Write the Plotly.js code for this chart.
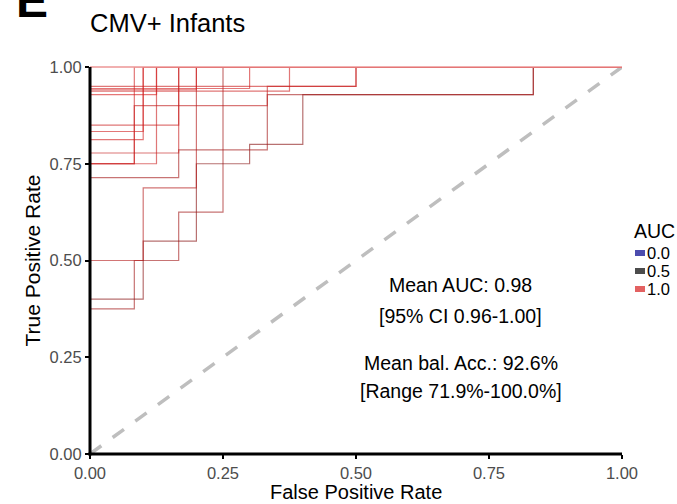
<!DOCTYPE html>
<html>
<head>
<meta charset="utf-8">
<script src="https://cdn.plot.ly/plotly-3.0.1.min.js"></script>
<style>html,body{margin:0;padding:0;background:#fff;}</style>
</head>
<body>
<div id="chart" style="width:677px;height:504px;"></div>
<script>
// ROC curves (false positive rate / true positive rate corner points), one per repeat
const rocFpr = [
  [0, 0, 0.0833, 0.0833, 0.1667, 0.1667, 0.25, 0.25, 1],
  [0, 0, 0.1, 0.1, 0.2, 0.2, 0.3, 0.3, 0.4, 0.4, 0.8333, 0.8333, 1],
  [0, 0, 0.1, 0.1, 0.2, 0.2, 1],
  [0, 0, 0.1667, 0.1667, 0.3333, 0.3333, 0.8333, 0.8333, 1],
  [0, 0, 0.0833, 0.0833, 0.3333, 0.3333, 0.5, 0.5, 1],
  [0, 0, 0.5, 0.5, 1],
  [0, 0, 0.0833, 0.0833, 1],
  [0, 0, 0.1, 0.1, 1],
  [0, 0, 0.1, 0.1, 1],
  [0, 0, 0.125, 0.125, 1],
  [0, 0, 0.125, 0.125, 1],
  [0, 0, 0.1667, 0.1667, 1],
  [0, 0, 0.1667, 0.1667, 1],
  [0, 0, 0.375, 0.375, 1],
  [0, 0, 0.3, 0.3, 1],
  [0, 0, 0.2, 0.2, 1]
];
const rocTpr = [
  [0, 0.375, 0.375, 0.5, 0.5, 0.625, 0.625, 1, 1],
  [0, 0.4, 0.4, 0.55, 0.55, 0.75, 0.75, 0.8, 0.8, 0.9286, 0.9286, 1, 1],
  [0, 0.5, 0.5, 0.6875, 0.6875, 1, 1],
  [0, 0.7143, 0.7143, 0.7857, 0.7857, 0.9286, 0.9286, 1, 1],
  [0, 0.75, 0.75, 0.9, 0.9, 0.95, 0.95, 1, 1],
  [0, 0.95, 0.95, 1, 1],
  [0, 0.75, 0.75, 1, 1],
  [0, 0.8125, 0.8125, 1, 1],
  [0, 0.8333, 0.8333, 1, 1],
  [0, 0.75, 0.75, 1, 1],
  [0, 0.9286, 0.9286, 1, 1],
  [0, 0.85, 0.85, 1, 1],
  [0, 0.7778, 0.7778, 1, 1],
  [0, 0.9375, 0.9375, 1, 1],
  [0, 0.9444, 0.9444, 1, 1],
  [0, 0.9412, 0.9412, 1, 1]
];
const rocAuc = [0.875, 0.819, 0.919, 0.881, 0.945, 0.975, 0.979, 0.981, 0.983, 0.969, 0.991, 0.975, 0.963, 0.977, 0.983, 0.988];

const tickVals = [0, 0.25, 0.5, 0.75, 1];
const tickText = ['0.00', '0.25', '0.50', '0.75', '1.00'];
const legendVals = [0.0, 0.5, 1.0];
const legendText = ['0.0', '0.5', '1.0'];
const statLines = ['Mean AUC: 0.98', '[95% CI 0.96-1.00]', 'Mean bal. Acc.: 92.6%', '[Range 71.9%-100.0%]'];

// colour scale (low / mid / high)
const cLow = [0, 0, 139], cMid = [0, 0, 0], cHigh = [215, 30, 30];
function aucColor(a, alpha) {
  let c;
  if (a <= 0.5) {
    const t = a / 0.5;
    c = cLow.map((v, i) => Math.round(v + (cMid[i] - v) * t));
  } else {
    const t = (a - 0.5) / 0.5;
    c = cMid.map((v, i) => Math.round(v + (cHigh[i] - v) * t));
  }
  return 'rgba(' + c[0] + ',' + c[1] + ',' + c[2] + ',' + alpha + ')';
}

const font = 'Liberation Sans, Arial, sans-serif';
const traces = [{
  x: [0, 1], y: [0, 1], mode: 'lines', type: 'scatter', hoverinfo: 'skip',
  line: {color: '#bebebe', width: 3.5, dash: '14px,14px'}, showlegend: false
}];
rocFpr.forEach((fx, i) => {
  traces.push({
    x: fx, y: rocTpr[i], mode: 'lines', type: 'scatter', showlegend: false,
    line: {color: aucColor(rocAuc[i], 0.6), width: 1.2}
  });
});

// pixel helpers for paper coords (plot area 90..622 x, 67..454 y)
const L = 90, R = 622, T = 67, B = 454;
const px = v => (v - L) / (R - L);
const py = v => (B - v) / (B - T);

const annotations = [];
const statY = [0.437, 0.357, 0.235, 0.163];
statLines.forEach((s, i) => annotations.push({
  x: 0.697, y: statY[i], xref: 'x', yref: 'y', text: s, showarrow: false,
  xanchor: 'center', yanchor: 'middle', font: {family: font, size: 19.5, color: '#000'}
}));
annotations.push({
  x: px(14), y: py(29), xref: 'paper', yref: 'paper', text: '<b>E</b>', showarrow: false,
  xanchor: 'left', yanchor: 'bottom', font: {family: font, size: 48, color: '#000'}
});
// x-axis title
annotations.push({
  x: 0.5, y: py(504), xref: 'paper', yref: 'paper', text: 'False Positive Rate', showarrow: false,
  xanchor: 'center', yanchor: 'bottom', borderpad: 0, font: {family: font, size: 20, color: '#000'}
});
annotations.push({
  x: px(632), y: py(231), xref: 'paper', yref: 'paper', text: 'AUC', showarrow: false,
  xanchor: 'left', yanchor: 'middle', font: {family: font, size: 19.5, color: '#000'}
});
const legRowY = [253, 271, 289];
const shapes = [];
legendVals.forEach((v, i) => {
  annotations.push({
    x: px(645), y: py(legRowY[i]), xref: 'paper', yref: 'paper', text: legendText[i], showarrow: false,
    xanchor: 'left', yanchor: 'middle', font: {family: font, size: 16.5, color: '#000'}
  });
  shapes.push({
    type: 'rect', xref: 'paper', yref: 'paper',
    x0: px(635), x1: px(645), y0: py(legRowY[i] + 3), y1: py(legRowY[i] - 3),
    line: {width: 0}, fillcolor: aucColor(v, 0.7)
  });
});
// top boundary: curves clipped at TPR = 1 look light
shapes.push({type: 'line', xref: 'paper', yref: 'paper', x0: 0, x1: 1, y0: 1, y1: 1,
  line: {color: 'rgb(236,150,150)', width: 1.6}, layer: 'above'});
// axis lines drawn over the curves
shapes.push({type: 'line', xref: 'paper', yref: 'paper', x0: 0, x1: 0, y0: py(B + 1.5), y1: 1,
  line: {color: '#000', width: 3}, layer: 'above'});
shapes.push({type: 'line', xref: 'paper', yref: 'paper', x0: px(L - 1.5), x1: 1, y0: 0, y1: 0,
  line: {color: '#000', width: 3}, layer: 'above'});

const axisCommon = {
  range: [0, 1], tickvals: tickVals, ticktext: tickText, showgrid: false, zeroline: false,
  showline: false, ticks: 'outside', ticklen: 4, tickwidth: 2,
  tickcolor: '#000', tickfont: {family: font, size: 16.5, color: '#4d4d4d'}, fixedrange: true
};
const layout = {
  width: 677, height: 504,
  margin: {l: L, r: 677 - R, t: T, b: 504 - B, pad: 0},
  paper_bgcolor: '#fff', plot_bgcolor: '#fff',
  title: {text: 'CMV+ Infants', x: px(90), xref: 'paper', xanchor: 'left', y: 1 - 23 / 504, yref: 'container', yanchor: 'middle',
          font: {family: font, size: 25.5, color: '#000'}},
  xaxis: Object.assign({}, axisCommon),
  yaxis: Object.assign({}, axisCommon, {title: {text: 'True Positive Rate', standoff: 3, font: {family: font, size: 21, color: '#000'}}}),
  annotations: annotations, shapes: shapes, showlegend: false
};
Plotly.newPlot('chart', traces, layout, {displayModeBar: false, staticPlot: true});
</script>
</body>
</html>
